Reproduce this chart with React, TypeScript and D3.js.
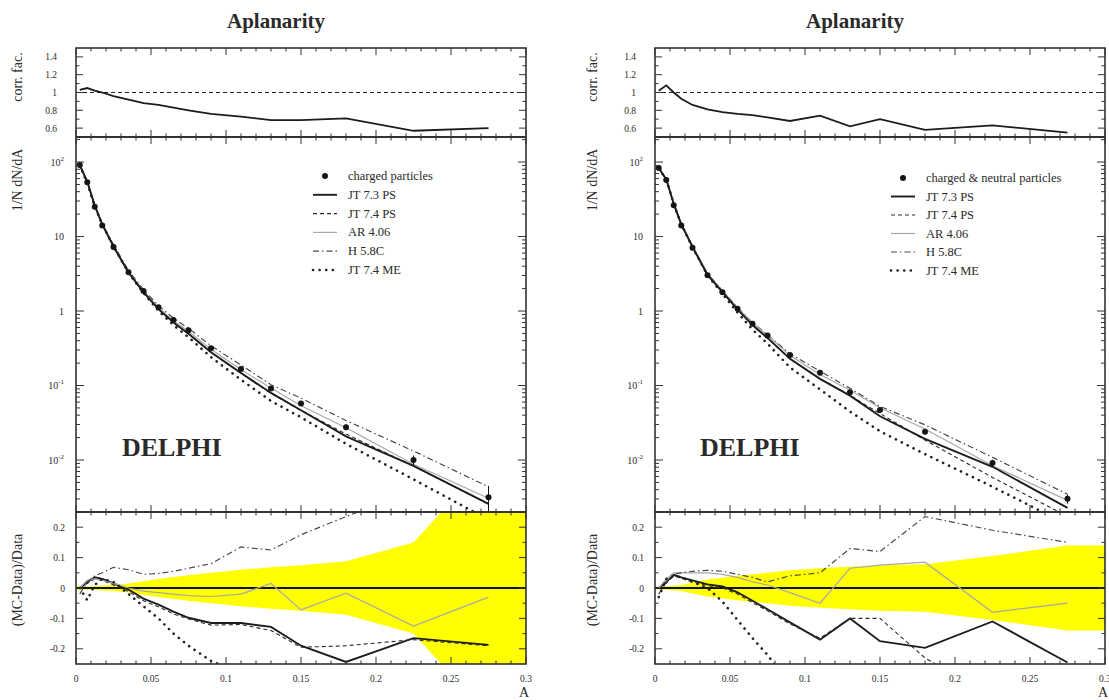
import React from "react";
import * as d3 from "d3";

const FONT = '"Liberation Serif","DejaVu Serif","Times New Roman",serif';

// ---------- data ----------
const binX = [0.0025, 0.0075, 0.0125, 0.0175, 0.025, 0.035, 0.045, 0.055, 0.065, 0.075, 0.09, 0.11, 0.13, 0.15, 0.18, 0.225, 0.275];

const xTickValues = [0, 0.05, 0.1, 0.15, 0.2, 0.25, 0.3];
const xTickLabels = ["0", "0.05", "0.1", "0.15", "0.2", "0.25", "0.3"];
const corrTicks = [0.6, 0.8, 1, 1.2, 1.4];
const corrTickLabels = ["0.6", "0.8", "1", "1.2", "1.4"];
const ratioTicks = [-0.2, -0.1, 0, 0.1, 0.2];
const ratioTickLabels = ["-0.2", "-0.1", "0", "0.1", "0.2"];
const logTickExps = [-2, -1, 0, 1, 2];

const seriesNames = ["JT 7.3 PS", "JT 7.4 PS", "AR 4.06", "H 5.8C", "JT 7.4 ME"];

// left: charged particles
const dataCharged = [91.2, 53.7, 25.1, 14.1, 7.24, 3.31, 1.86, 1.12, 0.759, 0.55, 0.316, 0.166, 0.0912, 0.0575, 0.0275, 0.01, 0.00316];
const errCharged = [0.005, 0.005, 0.006, 0.008, 0.01, 0.015, 0.022, 0.03, 0.036, 0.042, 0.05, 0.06, 0.068, 0.075, 0.088, 0.15, 0.42];
const corrCharged = [1.03, 1.05, 1.02, 1.0, 0.96, 0.92, 0.88, 0.86, 0.83, 0.8, 0.76, 0.73, 0.69, 0.69, 0.71, 0.57, 0.6];
const ratioJT73Charged = [0.0, 0.02, 0.035, 0.03, 0.015, -0.005, -0.035, -0.055, -0.078, -0.098, -0.115, -0.115, -0.128, -0.19, -0.243, -0.165, -0.187];
const ratioJT74Charged = [0.0, 0.015, 0.03, 0.025, 0.01, -0.012, -0.042, -0.062, -0.085, -0.102, -0.122, -0.12, -0.14, -0.195, -0.19, -0.17, -0.19];
const ratioAR406Charged = [0.0, 0.025, 0.03, 0.025, 0.015, 0.0, -0.01, -0.015, -0.02, -0.025, -0.028, -0.02, 0.015, -0.072, -0.017, -0.125, -0.03];
const ratioH58CCharged = [-0.02, 0.02, 0.04, 0.05, 0.068, 0.06, 0.045, 0.048, 0.055, 0.065, 0.08, 0.135, 0.125, 0.175, 0.235, 0.32, 0.38];
const ratioME74Charged = [0.0, -0.04, 0.01, 0.03, 0.02, -0.02, -0.06, -0.1, -0.15, -0.19, -0.24, -0.28, -0.32, -0.35, -0.4, -0.45, -0.5];

// right: charged & neutral particles
const dataAll = [83.2, 57.5, 26.3, 14.1, 7.08, 3.02, 1.78, 1.07, 0.676, 0.468, 0.257, 0.148, 0.0813, 0.0468, 0.024, 0.00912, 0.00302];
const errAll = [0.004, 0.006, 0.008, 0.01, 0.018, 0.028, 0.034, 0.04, 0.045, 0.05, 0.058, 0.065, 0.07, 0.075, 0.078, 0.105, 0.14];
const corrAll = [1.02, 1.08, 1.0, 0.93, 0.86, 0.81, 0.78, 0.76, 0.745, 0.72, 0.68, 0.74, 0.62, 0.7, 0.58, 0.63, 0.55];
const ratioJT73All = [0.0, 0.02, 0.043, 0.035, 0.025, 0.012, 0.005, -0.014, -0.042, -0.07, -0.113, -0.17, -0.1, -0.175, -0.197, -0.11, -0.245];
const ratioJT74All = [0.0, 0.015, 0.04, 0.032, 0.02, 0.008, 0.0, -0.02, -0.048, -0.075, -0.118, -0.165, -0.1, -0.1, -0.23, -0.36, -0.42];
const ratioAR406All = [0.0, 0.03, 0.05, 0.05, 0.05, 0.05, 0.045, 0.035, 0.02, 0.01, -0.015, -0.05, 0.065, 0.075, 0.085, -0.08, -0.05];
const ratioH58CAll = [-0.02, 0.02, 0.045, 0.05, 0.055, 0.058, 0.055, 0.045, 0.035, 0.02, 0.04, 0.05, 0.13, 0.12, 0.235, 0.19, 0.15];
const ratioME74All = [-0.03, 0.03, 0.04, 0.035, 0.02, 0.0, -0.045, -0.105, -0.165, -0.22, -0.32, -0.4, -0.45, -0.48, -0.5, -0.52, -0.55];

// ---------- styles ----------
const lineStyles = [
  { stroke: "#1c1c1c", width: 1.9, dash: undefined as string | undefined, cap: "butt" },
  { stroke: "#2a2a2a", width: 1.1, dash: "4,3", cap: "butt" },
  { stroke: "#a8a8a8", width: 1.2, dash: undefined, cap: "butt" },
  { stroke: "#4a4a4a", width: 1.2, dash: "6,3,1.5,3", cap: "butt" },
  { stroke: "#222222", width: 2.6, dash: "0.1,6.5", cap: "round" },
];

const TOP = 48, B1 = 137, B2 = 512, BOT = 664;

type Cfg = {
  id: string;
  x0: number;
  x1: number;
  titleX: number;
  legendLabel: string;
  legendX: number;
  legendY0: number;
  legendStep: number;
  delphiX: number;
  yTitleX: number;
  data: number[];
  err: number[];
  corr: number[];
  ratios: number[][];
};

function Panel({ cfg }: { cfg: Cfg }) {
  const { id, x0, x1 } = cfg;
  const x = d3.scaleLinear().domain([0, 0.3]).range([x0, x1]);
  const yCorr = d3.scaleLinear().domain([0.5, 1.5]).range([B1, TOP]);
  const yMain = d3.scaleLog().domain([Math.pow(10, -2.698), Math.pow(10, 2.336)]).range([B2, B1]);
  const yRat = d3.scaleLinear().domain([-0.25, 0.25]).range([BOT, B2]);

  const lineCorr = d3.line<number>().x((_, i) => x(binX[i])).y((d) => yCorr(d));
  const lineMain = d3.line<number>().x((_, i) => x(binX[i])).y((d) => yMain(d));
  const lineRat = d3.line<number>().x((_, i) => x(binX[i])).y((d) => yRat(d));

  const bandX = [0, ...binX, 0.3];
  const bandE = [cfg.err[0], ...cfg.err, cfg.err[cfg.err.length - 1]];
  const band = d3
    .area<number>()
    .x((_, i) => x(bandX[i]))
    .y0((d) => yRat(-d))
    .y1((d) => yRat(d))(bandE);

  const majorX = d3.range(0, 0.3001, 0.05);
  const minorX = d3.range(0, 0.3001, 0.01);

  const ticks: JSX.Element[] = [];
  let k = 0;
  const tk = (xa: number, ya: number, xb: number, yb: number) =>
    ticks.push(<line key={`t${k++}`} x1={xa} y1={ya} x2={xb} y2={yb} stroke="#333" strokeWidth={1} />);

  // x ticks on every sub-panel edge
  const edges: [number, number][] = [
    [TOP, B1],
    [B1, B2],
    [B2, BOT],
  ];
  edges.forEach(([ya, yb]) => {
    minorX.forEach((v) => {
      const isMajor = Math.abs(Math.round(v / 0.05) * 0.05 - v) < 1e-9;
      const L = isMajor ? 7 : 3.5;
      tk(x(v), yb, x(v), yb - L);
      tk(x(v), ya, x(v), ya + L);
    });
  });
  // y ticks corr
  d3.range(0.6, 1.41, 0.1).forEach((v) => {
    const isMajor = Math.abs(Math.round(v * 5) / 5 - v) < 1e-6;
    const L = isMajor ? 7 : 3.5;
    tk(x0, yCorr(v), x0 + L, yCorr(v));
    tk(x1, yCorr(v), x1 - L, yCorr(v));
  });
  // y ticks log
  for (let e = -3; e <= 2; e++) {
    for (let m = 1; m <= 9; m++) {
      const v = m * Math.pow(10, e);
      const [lo, hi] = yMain.domain();
      if (v < lo || v > hi) continue;
      const L = m === 1 ? 8 : 4;
      tk(x0, yMain(v), x0 + L, yMain(v));
      tk(x1, yMain(v), x1 - L, yMain(v));
    }
  }
  // y ticks ratio
  d3.range(-0.2, 0.201, 0.05).forEach((v) => {
    const isMajor = Math.abs(Math.round(v * 10) / 10 - v) < 1e-6;
    const L = isMajor ? 7 : 3.5;
    tk(x0, yRat(v), x0 + L, yRat(v));
    tk(x1, yRat(v), x1 - L, yRat(v));
  });

  const txt = { fontFamily: FONT, fill: "#2a2a2a" };

  return (
    <g>
      <defs>
        <clipPath id={`c-corr-${id}`}>
          <rect x={x0} y={TOP} width={x1 - x0} height={B1 - TOP} />
        </clipPath>
        <clipPath id={`c-main-${id}`}>
          <rect x={x0} y={B1} width={x1 - x0} height={B2 - B1} />
        </clipPath>
        <clipPath id={`c-rat-${id}`}>
          <rect x={x0} y={B2} width={x1 - x0} height={BOT - B2} />
        </clipPath>
      </defs>

      {/* title */}
      <text x={cfg.titleX} y={28} textAnchor="middle" fontSize={21} fontWeight="bold" {...txt}>
        Aplanarity
      </text>

      {/* correction factor panel */}
      <g clipPath={`url(#c-corr-${id})`}>
        <line x1={x0} x2={x1} y1={yCorr(1)} y2={yCorr(1)} stroke="#222" strokeWidth={1.2} strokeDasharray="4,3" />
        <path d={lineCorr(cfg.corr) || ""} fill="none" stroke="#1c1c1c" strokeWidth={1.8} />
      </g>

      {/* ratio panel */}
      <g clipPath={`url(#c-rat-${id})`}>
        <path d={band || ""} fill="#ffff00" stroke="none" />
        <line x1={x0} x2={x1} y1={yRat(0)} y2={yRat(0)} stroke="#111" strokeWidth={2} />
        {cfg.ratios.map((r, si) => {
          const s = lineStyles[si];
          return (
            <path
              key={`r${si}`}
              d={lineRat(r) || ""}
              fill="none"
              stroke={s.stroke}
              strokeWidth={s.width}
              strokeDasharray={s.dash}
              strokeLinecap={s.cap as any}
            />
          );
        })}
      </g>

      {/* main panel */}
      <g clipPath={`url(#c-main-${id})`}>
        {cfg.ratios
          .map((r, si) => ({ r, si }))
          .reverse()
          .map(({ r, si }) => {
            const s = lineStyles[si];
            const mc = cfg.data.map((d, i) => d * (1 + r[i]));
            return (
              <path
                key={`m${si}`}
                d={lineMain(mc) || ""}
                fill="none"
                stroke={s.stroke}
                strokeWidth={s.width}
                strokeDasharray={s.dash}
                strokeLinecap={s.cap as any}
              />
            );
          })}
        {cfg.data.map((d, i) => (
          <g key={`p${i}`}>
            <line
              x1={x(binX[i])}
              x2={x(binX[i])}
              y1={yMain(d * (1 - cfg.err[i]))}
              y2={yMain(d * (1 + cfg.err[i]))}
              stroke="#111"
              strokeWidth={1}
            />
            <circle cx={x(binX[i])} cy={yMain(d)} r={3} fill="#151515" />
          </g>
        ))}
      </g>

      {/* frames */}
      <rect x={x0} y={TOP} width={x1 - x0} height={BOT - TOP} fill="none" stroke="#333" strokeWidth={1.6} />
      <line x1={x0} x2={x1} y1={B1} y2={B1} stroke="#333" strokeWidth={2} />
      <line x1={x0} x2={x1} y1={B2} y2={B2} stroke="#333" strokeWidth={2} />
      {ticks}

      {/* tick labels */}
      {corrTicks.map((v, i) => (
        <text key={`cl${i}`} x={x0 - 19} y={yCorr(v) + 3.5} textAnchor="end" fontSize={9.5} {...txt}>
          {corrTickLabels[i]}
        </text>
      ))}
      {logTickExps.map((e) => (
        <text key={`ll${e}`} x={x0 - 12} y={yMain(Math.pow(10, e)) + 3.5} textAnchor="end" fontSize={10} {...txt}>
          {e === 0 ? "1" : "10"}
          {e !== 0 && e !== 1 ? (
            <tspan dy={-5} fontSize={7}>
              {String(e)}
            </tspan>
          ) : null}
        </text>
      ))}
      {ratioTicks.map((v, i) => (
        <text key={`rl${i}`} x={x0 - 11} y={yRat(v) + 3.5} textAnchor="end" fontSize={9.5} {...txt}>
          {ratioTickLabels[i]}
        </text>
      ))}
      {xTickValues.map((v, i) => (
        <text key={`xl${i}`} x={x(v)} y={682} textAnchor="middle" fontSize={9.5} {...txt}>
          {xTickLabels[i]}
        </text>
      ))}
      <text x={x1 - 2} y={697} textAnchor="middle" fontSize={14} {...txt}>
        A
      </text>

      {/* axis titles */}
      <text transform={`translate(${cfg.yTitleX},77) rotate(-90)`} textAnchor="middle" fontSize={14} {...txt}>
        corr. fac.
      </text>
      <text transform={`translate(${cfg.yTitleX},180) rotate(-90)`} textAnchor="middle" fontSize={14} {...txt}>
        1/N dN/dA
      </text>
      <text transform={`translate(${cfg.yTitleX},580) rotate(-90)`} textAnchor="middle" fontSize={14} {...txt}>
        (MC-Data)/Data
      </text>

      {/* DELPHI */}
      <text x={cfg.delphiX} y={456} fontSize={26} fontWeight="bold" {...txt}>
        DELPHI
      </text>

      {/* legend */}
      <g>
        <circle cx={cfg.legendX + 12} cy={cfg.legendY0} r={3} fill="#151515" />
        <text x={cfg.legendX + 35} y={cfg.legendY0 + 4} fontSize={12.5} {...txt}>
          {cfg.legendLabel}
        </text>
        {seriesNames.map((name, si) => {
          const s = lineStyles[si];
          const yy = cfg.legendY0 + (si + 1) * cfg.legendStep;
          return (
            <g key={`lg${si}`}>
              <line
                x1={cfg.legendX}
                x2={cfg.legendX + 24}
                y1={yy}
                y2={yy}
                stroke={s.stroke}
                strokeWidth={s.width}
                strokeDasharray={s.dash}
                strokeLinecap={s.cap as any}
              />
              <text x={cfg.legendX + 35} y={yy + 4} fontSize={12.5} {...txt}>
                {name}
              </text>
            </g>
          );
        })}
      </g>
    </g>
  );
}

const leftCfg: Cfg = {
  id: "L",
  x0: 76,
  x1: 526,
  titleX: 276,
  legendLabel: "charged particles",
  legendX: 313,
  legendY0: 176,
  legendStep: 18.8,
  delphiX: 122,
  yTitleX: 22,
  data: dataCharged,
  err: errCharged,
  corr: corrCharged,
  ratios: [ratioJT73Charged, ratioJT74Charged, ratioAR406Charged, ratioH58CCharged, ratioME74Charged],
};

const rightCfg: Cfg = {
  id: "R",
  x0: 655,
  x1: 1105,
  titleX: 855,
  legendLabel: "charged & neutral particles",
  legendX: 891,
  legendY0: 178,
  legendStep: 18.5,
  delphiX: 700,
  yTitleX: 597,
  data: dataAll,
  err: errAll,
  corr: corrAll,
  ratios: [ratioJT73All, ratioJT74All, ratioAR406All, ratioH58CAll, ratioME74All],
};

export default function App() {
  return (
    <svg
      width={1109}
      height={700}
      viewBox="0 0 1109 700"
      style={{ position: "absolute", left: 0, top: 0, background: "#ffffff", display: "block" }}
    >
      <rect x={0} y={0} width={1109} height={700} fill="#ffffff" />
      <Panel cfg={leftCfg} />
      <Panel cfg={rightCfg} />
    </svg>
  );
}
